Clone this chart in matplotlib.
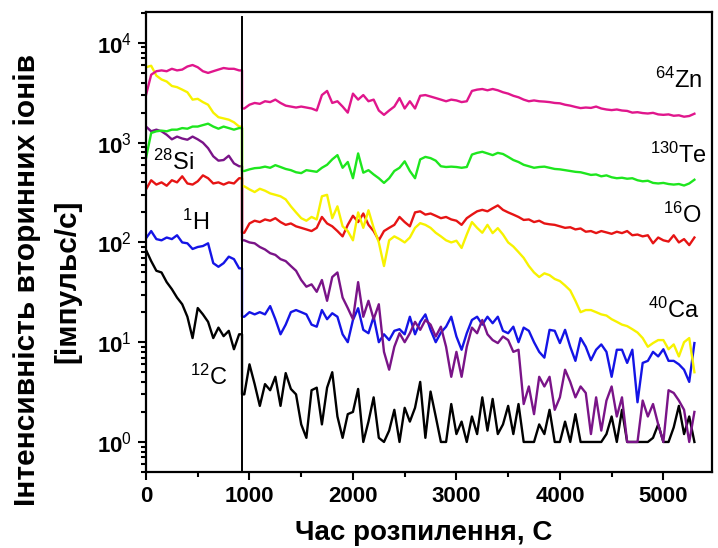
import numpy as np
import matplotlib
matplotlib.use("Agg")
import matplotlib.pyplot as plt
from matplotlib.ticker import FixedLocator, MultipleLocator, LogLocator, NullFormatter

plt.rcParams['font.family'] = ['Liberation Sans', 'DejaVu Sans']
plt.rcParams['mathtext.fontset'] = 'custom'
plt.rcParams['mathtext.rm'] = 'Liberation Sans'
plt.rcParams['mathtext.bf'] = 'Liberation Sans:bold'
plt.rcParams['mathtext.it'] = 'Liberation Sans:italic'

# ---------------- data (counts per second) ----------------
time_s = np.arange(0, 5301, 50)
n_before = 19          # samples recorded before the boundary
boundary_time = 928

zn64 = [3000, 4800, 5200, 5300, 5200, 5500, 5300, 5400, 5800, 6000,
        5700, 5200, 5000, 5200, 5400, 5600, 5500, 5500, 5300,
        2200, 2400, 2500, 2450, 2600, 2550, 2700, 2500, 2350, 2300,
        2250, 2300, 2250, 2200, 2100, 3000, 3300, 2500, 2600, 2300,
        2000, 3100, 2700, 3000, 2600, 2700, 2100, 1900, 2100, 2300,
        2800, 2200, 2600, 2200, 2950, 3000, 2900, 2800, 2700, 2600,
        2700, 2650,
        2550, 2600, 3300, 3400, 3450, 3350, 3450, 3350, 3200, 3100,
        2950, 2850, 2700, 2600, 2650, 2600, 2580, 2550, 2500, 2480,
        2400, 2350, 2280, 2220, 2250, 2230, 2300, 2200, 2150, 2120,
        2150, 2100, 2080, 2000, 2020, 1980, 1960, 1990, 1920, 1900,
        1920, 1860, 1880, 1820, 1850, 1950]

te130 = [700, 1250, 1300, 1320, 1300, 1350, 1350, 1400, 1380, 1450,
         1450, 1500, 1550, 1450, 1380, 1450, 1400, 1350, 1400,
         520, 540, 555, 560, 575, 560, 595, 570, 545, 530,
         505, 495, 530, 520, 510, 560, 600, 680, 750, 560,
         640, 440, 780, 500, 530, 480, 440, 395, 440, 520,
         560, 650, 520, 440, 680, 720, 700, 660, 580, 570,
         575, 570,
         560, 570, 760, 790, 810, 780, 750, 790, 770, 720,
         670, 640, 600, 580, 560, 570, 575, 560, 545, 540,
         530, 520, 510, 505, 490, 475, 480, 460, 470, 450,
         440, 445, 435, 440, 420, 410, 415, 395, 390, 395,
         385, 380, 385, 372, 390, 425]

o16 = [340, 420, 380, 400, 370, 420, 400, 460, 390, 380,
       410, 470, 440, 390, 400, 380, 400, 390, 440,
       125, 155, 165, 160, 170, 165, 175, 160, 150, 155,
       145, 140, 135, 130, 140, 180, 155, 145, 130, 115,
       150, 185, 160, 195, 150, 130, 105, 130, 140, 150,
       180, 160, 145, 200, 205, 190, 195, 185, 175, 180,
       170, 165,
       150, 175, 190, 205, 212, 205, 220, 235, 212, 200,
       190, 180, 168, 170, 160, 165, 155, 152, 150, 145,
       140, 142, 135, 138, 128, 130, 124, 130, 126, 122,
       128, 124, 130, 118, 120, 115, 118, 98, 112, 105,
       102, 118, 100, 108, 94, 112]

ca40 = [5700, 5900, 4700, 4300, 4100, 3700, 3600, 3400, 3200, 2700,
        2750, 2550, 2400, 2000, 1800, 1750, 1700, 1600, 1450,
        365, 340, 320, 345, 330, 310, 300, 290, 270, 230,
        200, 175, 165, 180, 170, 290, 300, 175, 230, 145,
        130, 105, 200, 140, 210, 140, 100, 58, 105, 115,
        108, 100, 112, 140, 156, 150, 140, 125, 115, 105,
        100, 104,
        88, 120, 160, 140, 125, 150, 124, 139, 120, 100,
        91, 80, 70, 58, 50, 45, 49, 47, 43, 41,
        37, 33, 26, 20, 21, 21, 20, 19, 18.5, 17,
        16, 15, 14.5, 13.5, 12.5, 11, 9, 9.8, 10.5, 10.5,
        8.5, 9.5, 7.2, 10, 11, 5]

si28 = [1450, 1300, 1350, 1300, 1200, 1080, 1150, 1100, 1070, 1150,
        1080, 1000, 880, 730, 660, 670, 740, 620, 580,
        105, 100, 98, 90, 85, 78, 75, 68, 65, 58,
        52, 42, 36, 38, 32, 42, 26, 45, 50, 28,
        22, 17, 40, 18, 26, 17, 24, 8, 5.3, 9,
        12.3, 10, 12.3, 16, 13.3, 16.7, 15, 11.4, 14.3, 9,
        4.5, 8,
        4.5, 9, 14, 12.3, 16.7, 12, 10.5, 9.8, 11.4, 10.5,
        8, 8.4, 2.4, 3.6, 1.9, 4.5, 3.6, 4.5, 2.1, 2.8,
        5.3, 4, 2.8, 3.6, 3.1, 1.2, 2.8, 1.3, 2.6, 3.6,
        1.8, 2.8, 1.0, 1.0, 1.0, 2.6, 1.8, 2.4, 1.5, 1.0,
        3.3, 3.1, 2.6, 2.1, 1.0, 2.0]

h1 = [110, 130, 108, 105, 112, 108, 118, 100, 98, 86,
      90, 92, 98, 62, 57, 62, 72, 68, 55,
      18, 20, 19, 20, 19, 23, 17, 12, 15, 20,
      21, 20, 19, 15, 14.3, 21, 17, 19.5, 18, 12,
      10, 16.7, 21.9, 13.3, 12.3, 18, 10, 12, 10.5, 13,
      13.5, 12, 18, 12, 16, 19, 13.3, 10, 12.5, 14.3,
      18, 11.4,
      8.4, 12.3, 16.7, 18, 15, 18, 15.5, 18, 13, 12.3,
      14.3, 10, 14, 13, 10, 8, 7, 13.3, 13, 9.8,
      13.3, 9, 6.5, 11, 9, 6.6, 8.4, 9.5, 8, 4.5,
      8.4, 8.4, 6.2, 8.4, 2.5, 6.2, 6.5, 8, 7.2, 8.5,
      6.5, 6.5, 6, 5.3, 4, 9.8]

c12 = [84, 65, 52, 50, 40, 34, 28, 24, 18, 11,
       22, 19, 16, 11, 14, 11.5, 13, 8.5, 12,
       3.0, 6.0, 3.8, 2.3, 3.8, 3.3, 4.5, 2.3, 4.9, 3.4,
       3.0, 1.5, 1.1, 3.3, 3.5, 1.5, 3.5, 5.0, 1.8, 1.1,
       1.9, 2.0, 3.4, 1.0, 1.6, 2.8, 1.1, 1.0, 1.3, 2.1,
       1.0, 2.2, 1.6, 2.2, 4.0, 1.1, 3.2, 1.8, 1.0, 1.0,
       2.4, 1.2,
       1.6, 1.0, 1.8, 1.2, 2.8, 1.3, 2.7, 1.2, 1.5, 2.3,
       1.2, 2.4, 1.0, 1.0, 1.0, 1.5, 1.2, 2.1, 1.0, 1.0,
       1.6, 1.0, 1.9, 1.0, 1.0, 1.0, 1.0, 1.0, 1.2, 1.8,
       1.0, 2.1, 1.0, 1.0, 1.0, 1.0, 1.0, 1.1, 1.5, 1.0,
       1.0, 1.4, 2.3, 1.2, 1.8, 1.0]

ytick_values = [1, 10, 100, 1000, 10000]
ytick_exponents = [0, 1, 2, 3, 4]
xtick_values = [0, 1000, 2000, 3000, 4000, 5000]

series = [
    (c12, '#000000'),
    (h1, '#1414e6'),
    (si28, '#7a1488'),
    (o16, '#e61414'),
    (ca40, '#f7f200'),
    (te130, '#1ee61e'),
    (zn64, '#e0168c'),
]

# ---------------- figure ----------------
fig = plt.figure(figsize=(7.18, 5.48), dpi=100)
ax = fig.add_axes([146/718, 1-472/548, (712-146)/718, (472-12)/548])
ax.set_yscale('log')

for vals, color in series:
    v = np.asarray(vals, dtype=float)
    # the signal jumps at the boundary: draw that step vertically
    x = np.concatenate([time_s[:n_before], [boundary_time, boundary_time], time_s[n_before:]])
    y = np.concatenate([v[:n_before], [v[n_before-1], v[n_before]], v[n_before:]])
    ax.plot(x, y, color=color, lw=1.7, solid_joinstyle='round')

ax.axvline(boundary_time, ymin=0, ymax=(472-17)/460, color='black', lw=1.4)

ax.set_xlim(0, 5470)
ax.set_ylim(0.5, 20400)

ax.yaxis.set_major_locator(FixedLocator(ytick_values))
ax.set_yticklabels([r'$\mathbf{10}^{\mathrm{%d}}$' % e for e in ytick_exponents], fontsize=16)
ax.yaxis.set_minor_locator(LogLocator(base=10, subs=np.arange(2, 10)))
ax.yaxis.set_minor_formatter(NullFormatter())

ax.xaxis.set_major_locator(FixedLocator(xtick_values))
ax.set_xticklabels([str(v) for v in xtick_values], fontsize=16, fontweight='bold')
ax.xaxis.set_minor_locator(MultipleLocator(500))

ax.tick_params(which='both', direction='out', top=False, right=False, width=1.5)
ax.tick_params(which='major', length=6, pad=4)
ax.tick_params(which='minor', length=3.5)
for sp in ax.spines.values():
    sp.set_linewidth(1.6)

# labels
fig.text(27/718, 1-280/548, 'Інтенсивність вторинних іонів', rotation=90,
         ha='center', va='center', fontsize=21.5, fontweight='bold')
fig.text(67/718, 1-281/548, '[імпульс/с]', rotation=90,
         ha='center', va='center', fontsize=21.5, fontweight='bold')
fig.text(424/718, 1-540/548, 'Час розпилення, С', ha='center', va='baseline',
         fontsize=20, fontweight='bold')

# isotope annotations
ann = dict(fontsize=17, va='baseline', ha='left')
ax.text(4918, 3540, r'$\mathregular{^{64}Zn}$', **ann)
ax.text(4870, 627, r'$\mathregular{^{130}Te}$', **ann)
ax.text(4995, 157, r'$\mathregular{^{16}O}$', **ann)
ax.text(4850, 17.5, r'$\mathregular{^{40}Ca}$', **ann)
ax.text(68, 533, r'$\mathregular{^{28}Si}$', **ann)
ax.text(348, 133, r'$\mathregular{^{1}H}$', **ann)
ax.text(425, 3.73, r'$\mathregular{^{12}C}$', **ann)

fig.savefig('out.png', dpi=100)
